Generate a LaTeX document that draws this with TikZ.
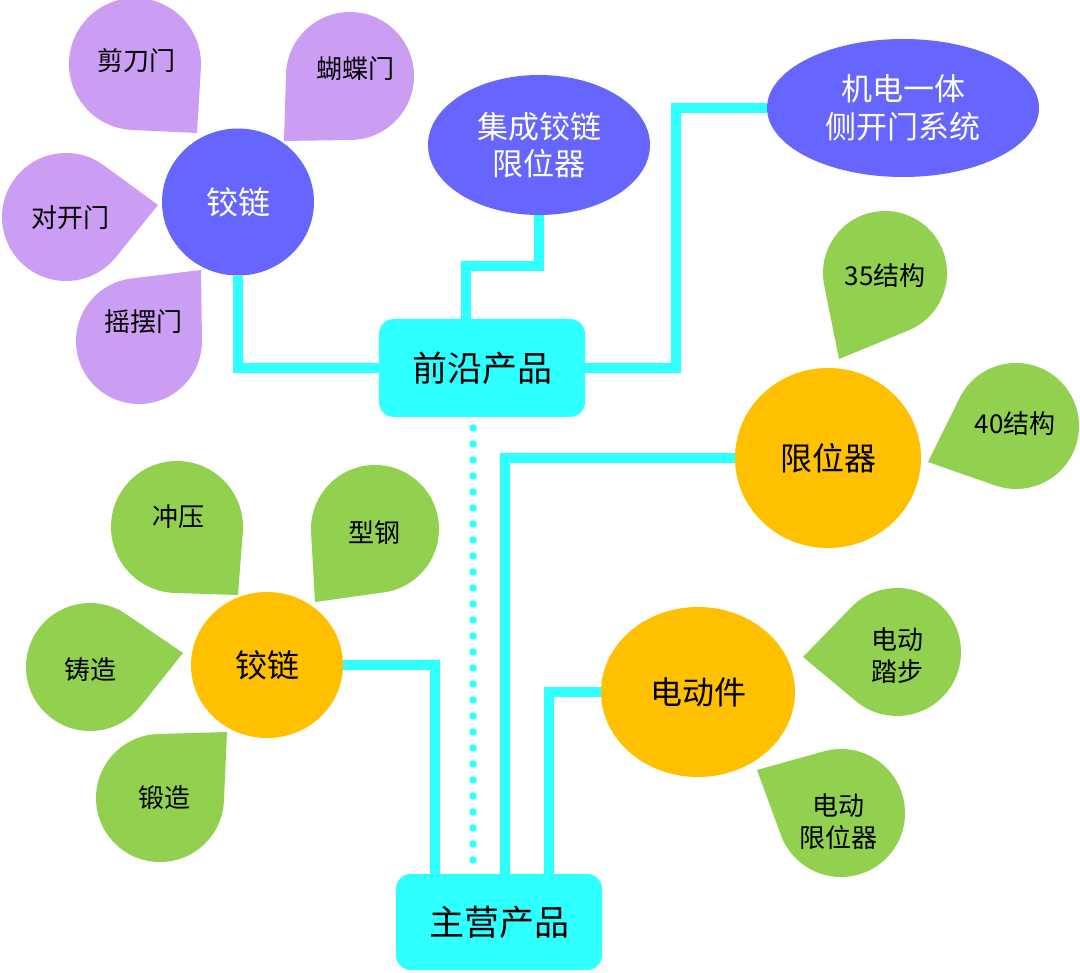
\documentclass[tikz,border=0pt]{standalone}
\usepackage{fontspec}
\setmainfont{Noto Sans CJK SC}
\usetikzlibrary{shapes.geometric,calc}
\definecolor{bluep}{RGB}{102,102,255}
\definecolor{lav}{RGB}{203,158,244}
\definecolor{leaf}{RGB}{146,208,80}
\definecolor{gold}{RGB}{255,192,0}
\definecolor{aqua}{RGB}{46,255,255}
\pgfdeclarelayer{backlayer}
\pgfdeclarelayer{linklayer}
\pgfsetlayers{backlayer,linklayer,main}
% teardrop: centre x, centre y, radius, tip x, tip y, colour
\newcommand\tdrop[6]{%
  \pgfmathsetmacro\tdphi{atan2(#5-#2,#4-#1)}%
  \pgfmathsetmacro\tdd{veclen(#4-#1,#5-#2)}%
  \pgfmathsetmacro\tda{acos(#3/\tdd)}%
  \pgfmathsetmacro\tds{\tdphi+\tda}%
  \pgfmathsetmacro\tde{\tdphi+360-\tda}%
  \fill[#6] (#4,#5) -- ($(#1,#2)+(\tds:#3)$) arc[start angle=\tds, end angle=\tde, radius=#3] -- cycle;%
}
\begin{document}
\begin{tikzpicture}[x=1pt,y=-1pt,
  conn/.style={draw=aqua,line width=10pt},
  dotline/.style={draw=aqua,line width=7.5pt,line cap=round,dash pattern=on 0pt off 16pt},
  hub/.style={ellipse,inner sep=0pt,fill=gold,font=\fontsize{32}{38}\selectfont},
  bluehub/.style={ellipse,inner sep=0pt,fill=bluep,text=white,align=center,font=\fontsize{31}{37.5}\selectfont},
  prodbox/.style={rectangle,rounded corners=15pt,fill=aqua,minimum width=206pt,minimum height=98pt,inner sep=0pt,font=\fontsize{35}{42}\selectfont},
  petaltext/.style={inner sep=0pt,align=center,font=\fontsize{26}{32}\selectfont},
]
\begin{pgfonlayer}{backlayer}
\fill[white] (0,0) rectangle (1080,973);
\end{pgfonlayer}
\useasboundingbox (0,0) rectangle (1080,973);

% purple petals
\tdrop{135}{64}{66}{197}{133}{lav}
\tdrop{350}{76}{64}{284}{141}{lav}
\tdrop{66}{217}{64}{158}{205}{lav}
\tdrop{139}{341}{63}{201}{270}{lav}
% green petals (left)
\tdrop{177}{527}{66}{238}{595}{leaf}
\tdrop{375}{529}{64}{315}{602}{leaf}
\tdrop{90}{667}{64}{183}{653}{leaf}
\tdrop{160}{798}{64}{227}{732}{leaf}
% green petals (right)
\tdrop{885}{273}{62}{839}{359}{leaf}
\tdrop{1016}{426}{63}{928}{462}{leaf}
\tdrop{897}{652}{64}{803}{657}{leaf}
\tdrop{841}{813}{64}{757}{770}{leaf}

\node[petaltext] (p1) at (136,61) {剪刀门};
\node[petaltext] (p2) at (355,69) {蝴蝶门};
\node[petaltext] (p3) at (70,218) {对开门};
\node[petaltext] (p4) at (143,322) {摇摆门};
\node[petaltext] (p5) at (178,517) {冲压};
\node[petaltext] (p6) at (374,533) {型钢};
\node[petaltext] (p7) at (90,670) {铸造};
\node[petaltext] (p8) at (164,798) {锻造};
\node[petaltext] (p9) at (885,276) {35结构};
\node[petaltext] (p10) at (1015,424) {40结构};
\node[petaltext] (p11) at (897,656) {电动\\踏步};
\node[petaltext] (p12) at (838,822) {电动\\限位器};

% hubs
\node[bluehub,minimum width=152pt,minimum height=147pt,font=\fontsize{32}{38}\selectfont] (jl) at (238,202) {铰链};
\node[bluehub,minimum width=222pt,minimum height=140pt] (jc) at (539,145) {集成铰链\\限位器};
\node[bluehub,minimum width=272pt,minimum height=138pt] (jd) at (903,108) {机电一体\\侧开门系统};
\node[hub,minimum width=152pt,minimum height=146pt] (jo) at (267,665) {铰链};
\node[hub,minimum width=186pt,minimum height=180pt] (jx) at (828,458) {限位器};
\node[hub,minimum width=194pt,minimum height=170pt] (je) at (698,692) {电动件};

% product boxes
\node[prodbox] (qy) at (482,368) {前沿产品};
\node[prodbox,minimum height=96pt] (zy) at (499,922) {主营产品};

% connectors
\coordinate (kb) at (466,266);
\coordinate (kc) at (676,108);
\coordinate (dtop) at (473,428);
\begin{pgfonlayer}{linklayer}
\draw[conn] (jl.south) |- (qy.west);
\draw[conn] (jc.south) |- (kb) -- (kb |- qy.north);
\draw[conn] (qy.east) -| (kc) -- (jd.west);
\draw[conn] (jo.east) -| ([xshift=-64pt]zy.north);
\draw[conn] (jx.west) -| ([xshift=6pt]zy.north);
\draw[conn] (je.west) -| ([xshift=50pt]zy.north);
\draw[dotline] (dtop) -- (dtop |- zy.north);
\end{pgfonlayer}
\end{tikzpicture}
\end{document}
